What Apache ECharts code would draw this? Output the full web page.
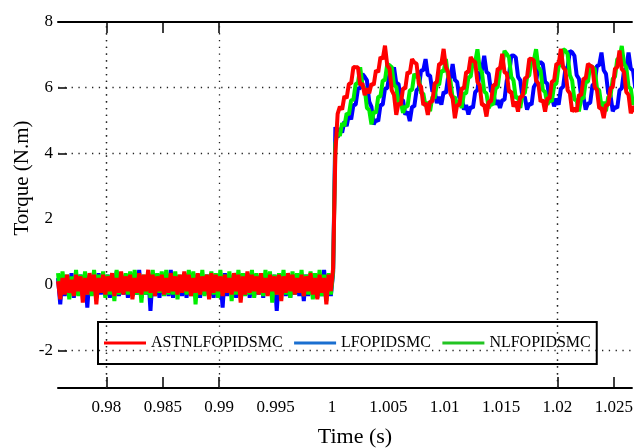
<!DOCTYPE html>
<html>
<head>
<meta charset="utf-8">
<title>Torque</title>
<script src="https://cdn.jsdelivr.net/npm/echarts@6/dist/echarts.min.js"></script>
<style>
  html, body { margin: 0; padding: 0; background: #fff; }
  #chart { width: 636px; height: 448px; }
</style>
</head>
<body>
<div id="chart"></div>
<script>
// sampling of the read-off curves
var preStart = 0.9757, postStart = 1.0003, dt = 0.0002;

// before the load step (t < 1 s)
var redPre = [
  0.1, -0.45, 0.2, -0.3, 0.3, -0.25, 0.15, -0.35, 0.3, -0.2,
  0.25, -0.55, 0.2, -0.3, 0.35, -0.2, 0.3, -0.6, 0.2, -0.25,
  0.3, -0.3, 0.25, -0.2, 0.35, -0.35, 0.2, -0.25, 0.4, -0.3,
  0.25, -0.2, 0.3, -0.45, 0.2, -0.25, 0.35, -0.3, 0.3, -0.2,
  0.45, -0.25, 0.3, -0.35, 0.25, -0.2, 0.3, -0.3, 0.2, -0.25,
  0.35, -0.2, 0.25, -0.3, 0.3, -0.25, 0.4, -0.2, 0.3, -0.35,
  0.2, -0.25, 0.35, -0.3, 0.25, -0.2, 0.3, -0.45, 0.35, -0.25,
  0.3, -0.2, 0.25, -0.35, 0.3, -0.25, 0.2, -0.3, 0.35, -0.2,
  0.3, -0.55, 0.25, -0.3, 0.4, -0.25, 0.3, -0.2, 0.25, -0.3,
  0.35, -0.25, 0.2, -0.35, 0.3, -0.2, 0.25, -0.3, 0.3, -0.5,
  0.25, -0.25, 0.35, -0.2, 0.3, -0.3, 0.2, -0.25, 0.3, -0.35,
  0.25, -0.2, 0.35, -0.3, 0.2, -0.45, 0.3, -0.25, 0.2, -0.6,
  0.3, -0.2, 0.5
];
var greenPre = [
  0.35, -0.3, 0.4, -0.25, 0.3, -0.45, 0.25, -0.3, 0.45, -0.35,
  0.3, -0.25, 0.4, -0.3, 0.25, -0.35, 0.45, -0.3, 0.3, -0.25,
  0.4, -0.4, 0.3, -0.3, 0.25, -0.5, 0.45, -0.3, 0.3, -0.25,
  0.35, -0.3, 0.4, -0.35, 0.45, -0.3, 0.25, -0.55, 0.3, -0.3,
  0.3, -0.4, 0.45, -0.3, 0.35, -0.25, 0.4, -0.35, 0.45, -0.3,
  0.3, -0.3, 0.4, -0.45, 0.3, -0.25, 0.35, -0.3, 0.45, -0.35,
  0.4, -0.6, 0.3, -0.3, 0.45, -0.35, 0.3, -0.25, 0.4, -0.3,
  0.35, -0.4, 0.45, -0.3, 0.3, -0.25, 0.4, -0.5, 0.3, -0.3,
  0.45, -0.3, 0.35, -0.35, 0.3, -0.3, 0.45, -0.4, 0.35, -0.25,
  0.3, -0.35, 0.45, -0.3, 0.4, -0.55, 0.3, -0.3, 0.35, -0.25,
  0.45, -0.3, 0.3, -0.4, 0.4, -0.3, 0.35, -0.25, 0.45, -0.35,
  0.3, -0.3, 0.4, -0.45, 0.35, -0.3, 0.45, -0.35, 0.3, -0.5,
  0.35, -0.3, 0.4
];
var bluePre = [
  0.2, -0.6, 0.3, -0.35, 0.25, -0.3, 0.35, -0.4, 0.2, -0.3,
  0.3, -0.35, 0.25, -0.7, 0.3, -0.3, 0.2, -0.4, 0.35, -0.3,
  0.25, -0.35, 0.3, -0.4, 0.2, -0.3, 0.4, -0.35, 0.25, -0.3,
  0.3, -0.4, 0.25, -0.35, 0.3, -0.3, 0.45, -0.4, 0.25, -0.3,
  0.35, -0.8, 0.3, -0.35, 0.2, -0.4, 0.3, -0.3, 0.25, -0.35,
  0.45, -0.4, 0.3, -0.3, 0.25, -0.35, 0.3, -0.4, 0.2, -0.3,
  0.35, -0.35, 0.3, -0.4, 0.25, -0.3, 0.3, -0.35, 0.2, -0.4,
  0.3, -0.3, 0.25, -0.7, 0.35, -0.35, 0.3, -0.3, 0.25, -0.4,
  0.3, -0.35, 0.2, -0.3, 0.35, -0.4, 0.3, -0.35, 0.25, -0.3,
  0.3, -0.4, 0.35, -0.3, 0.25, -0.35, 0.3, -0.8, 0.2, -0.3,
  0.3, -0.35, 0.25, -0.4, 0.3, -0.3, 0.35, -0.35, 0.25, -0.5,
  0.3, -0.35, 0.2, -0.3, 0.3, -0.4, 0.25, -0.35, 0.45, -0.3,
  0.3, -0.35, 0.35
];

// after the load step (t >= 1 s)
var redPost = [
  4.0, 5.2, 5.42, 5.33, 5.74, 5.68, 6.12, 6.13, 6.63, 6.62,
  6.62, 6.08, 6.13, 5.77, 5.98, 5.83, 6.12, 6.08, 6.53, 6.47,
  6.93, 6.87, 7.28, 6.68, 6.58, 5.92, 5.78, 5.17, 5.53, 5.47,
  5.98, 5.97, 6.48, 6.43, 6.87, 6.77, 6.73, 6.12, 6.03, 5.47,
  5.53, 5.17, 5.58, 5.57, 6.13, 6.17, 6.73, 6.72, 7.18, 6.62,
  6.48, 5.82, 5.68, 5.07, 5.48, 5.47, 5.98, 5.97, 6.48, 6.47,
  6.93, 6.82, 6.78, 6.17, 6.08, 5.47, 5.48, 5.12, 5.58, 5.57,
  6.08, 6.07, 6.58, 6.57, 7.03, 6.47, 6.43, 5.87, 5.88, 5.42,
  5.58, 5.27, 5.73, 5.72, 6.28, 6.32, 6.88, 6.87, 6.83, 6.22,
  6.13, 5.57, 5.63, 5.27, 5.68, 5.67, 6.18, 6.22, 6.73, 6.72,
  7.18, 6.62, 6.53, 5.92, 5.83, 5.27, 5.38, 5.27, 5.78, 5.77,
  6.28, 6.27, 6.73, 6.67, 6.63, 6.02, 5.93, 5.37, 5.38, 5.07,
  5.48, 5.47, 5.98, 6.02, 6.58, 6.62, 7.13, 6.57, 6.48, 5.87,
  5.78, 5.22, 5.43, 5.27
];
var greenPost = [
  4.3, 4.62, 4.53, 4.92, 4.83, 5.22, 5.18, 5.62, 5.63, 6.12,
  6.13, 6.62, 6.08, 5.97, 5.38, 5.32, 4.88, 5.27, 5.23, 5.72,
  5.73, 6.22, 6.23, 6.72, 6.68, 6.62, 6.08, 6.02, 5.53, 5.57,
  5.23, 5.42, 5.43, 5.92, 5.93, 6.42, 6.33, 6.32, 5.83, 5.82,
  5.43, 5.57, 5.28, 5.72, 5.68, 6.12, 6.08, 6.52, 6.48, 6.87,
  6.33, 6.22, 5.68, 5.72, 5.43, 5.62, 5.38, 5.82, 5.83, 6.32,
  6.33, 6.82, 6.78, 7.17, 6.58, 6.47, 5.88, 5.82, 5.38, 5.52,
  5.48, 5.97, 6.03, 6.57, 6.63, 7.12, 7.03, 6.92, 6.33, 6.22,
  5.68, 5.72, 5.38, 5.82, 5.83, 6.32, 6.38, 6.87, 6.83, 7.17,
  6.63, 6.52, 5.93, 5.87, 5.48, 5.62, 5.58, 6.07, 6.13, 6.67,
  6.68, 7.17, 7.13, 7.02, 6.38, 6.22, 5.63, 5.62, 5.28, 5.67,
  5.68, 6.17, 6.18, 6.67, 6.63, 6.57, 5.98, 5.92, 5.43, 5.57,
  5.28, 5.72, 5.73, 6.27, 6.33, 6.87, 6.88, 7.27, 6.73, 6.62,
  6.03, 5.97, 5.48, 5.62
];
var bluePost = [
  4.8, 4.48, 4.77, 4.63, 4.97, 4.83, 5.17, 5.03, 5.47, 5.48,
  5.97, 5.98, 6.42, 6.33, 6.22, 5.58, 5.42, 4.88, 5.02, 4.98,
  5.47, 5.48, 5.97, 5.98, 6.42, 6.33, 6.62, 6.13, 6.12, 5.63,
  5.62, 5.18, 5.27, 4.98, 5.42, 5.43, 5.92, 5.98, 6.52, 6.53,
  6.87, 6.38, 6.37, 5.88, 5.92, 5.53, 5.72, 5.48, 5.87, 5.83,
  6.32, 6.28, 6.72, 6.23, 6.17, 5.68, 5.72, 5.33, 5.47, 5.18,
  5.42, 5.38, 5.87, 5.93, 6.47, 6.53, 6.97, 6.48, 6.42, 5.88,
  5.87, 5.48, 5.62, 5.38, 5.62, 5.63, 6.22, 6.38, 6.97, 6.98,
  6.92, 6.33, 6.22, 5.68, 5.72, 5.33, 5.52, 5.48, 6.02, 6.13,
  6.72, 6.78, 6.72, 6.18, 6.12, 5.63, 5.72, 5.43, 5.67, 5.48,
  5.97, 6.03, 6.57, 6.63, 7.12, 7.08, 6.97, 6.38, 6.27, 5.73,
  5.72, 5.33, 5.52, 5.53, 6.07, 6.13, 6.67, 6.68, 7.07, 6.53,
  6.42, 5.83, 5.77, 5.28, 5.42, 5.38, 5.92, 5.98, 6.52, 6.58,
  7.07, 6.58, 6.52, 5.98
];

var seriesNames = ['ASTNLFOPIDSMC', 'LFOPIDSMC', 'NLFOPIDSMC'];
var xLabelVals = [0.98, 0.985, 0.99, 0.995, 1, 1.005, 1.01, 1.015, 1.02, 1.025];
var xTickVals = [0.98, 0.985, 0.99, 1.02, 1.025];
var yLabelVals = [8, 6, 4, 2, 0, -2];
var yTickVals = [6, 4, -2];
var xGridVals = [0.98, 0.985, 0.99, 1.02, 1.025];
var yGridVals = [6, 4, -2];

function toPairs(pre, post) {
  var out = [];
  for (var i = 0; i < pre.length; i++) out.push([+(preStart + i * dt).toFixed(5), pre[i]]);
  for (var j = 0; j < post.length; j++) out.push([+(postStart + j * dt).toFixed(5), post[j]]);
  return out;
}

var font = 'Liberation Serif';
var xMin = 0.9757, xMax = 1.0266;

var gridMarks = [];
xGridVals.forEach(function (v) { gridMarks.push({ xAxis: v }); });
yGridVals.forEach(function (v) { gridMarks.push({ yAxis: v }); });

var myChart = echarts.init(document.getElementById('chart'));
var option = {
  animation: false,
  backgroundColor: '#fff',
  textStyle: { fontFamily: font, color: '#000' },
  grid: { left: 58, right: 0, top: 22, bottom: 60 },
  legend: {
    left: 98, top: 322,
    padding: [13, 6, 13, 6],
    itemGap: 11.5,
    itemWidth: 42, itemHeight: 3,
    icon: 'rect',
    borderColor: '#000', borderWidth: 2,
    textStyle: { fontFamily: font, fontSize: 16, color: '#000' },
    data: [
      { name: seriesNames[0], itemStyle: { color: '#ff0000' } },
      { name: seriesNames[1], itemStyle: { color: '#1a6fd0' } },
      { name: seriesNames[2], itemStyle: { color: '#22c422' } }
    ]
  },
  xAxis: [{
    type: 'value', min: xMin, max: xMax,
    axisLine: { show: true, onZero: false, lineStyle: { color: '#000', width: 2 } },
    axisTick: { show: true, inside: true, length: 11, customValues: xTickVals, lineStyle: { color: '#000', width: 1.5 } },
    axisLabel: {
      customValues: xLabelVals, margin: 11,
      fontFamily: font, fontSize: 17, color: '#000',
      formatter: function (v) { return String(+(+v).toFixed(3)); }
    },
    splitLine: { show: false }
  }, {
    type: 'value', min: xMin, max: xMax, position: 'top',
    axisLine: { show: true, onZero: false, lineStyle: { color: '#000', width: 2 } },
    axisTick: { show: true, inside: true, length: 11, customValues: xTickVals, lineStyle: { color: '#000', width: 1.5 } },
    axisLabel: { show: false },
    splitLine: { show: false }
  }],
  yAxis: {
    type: 'value', min: -3.15, max: 8,
    axisLine: { show: false },
    axisTick: { show: true, inside: true, length: 9, customValues: yTickVals, lineStyle: { color: '#000', width: 1.5 } },
    axisLabel: { customValues: yLabelVals, margin: 5, fontFamily: font, fontSize: 17, color: '#000' },
    splitLine: { show: false }
  },
  graphic: [
    { type: 'text', x: 22, y: 178, rotation: Math.PI / 2,
      style: { text: 'Torque (N.m)', font: '21px "Liberation Serif"', fill: '#000', textAlign: 'center', textVerticalAlign: 'middle' } },
    { type: 'text', x: 355, y: 437,
      style: { text: 'Time (s)', font: '22px "Liberation Serif"', fill: '#000', textAlign: 'center', textVerticalAlign: 'middle' } }
  ],
  series: [
    {
      name: seriesNames[1], type: 'line', showSymbol: false, symbol: 'none',
      color: '#0000ff', lineStyle: { color: '#0000ff', width: 4 },
      data: toPairs(bluePre, bluePost),
      markLine: {
        silent: true, symbol: 'none', z: 1, animation: false,
        label: { show: false },
        lineStyle: { color: '#222', width: 1.3, type: [1.3, 5.5] },
        data: gridMarks
      }
    },
    {
      name: seriesNames[2], type: 'line', showSymbol: false, symbol: 'none',
      color: '#00ee00', lineStyle: { color: '#00ee00', width: 4 },
      data: toPairs(greenPre, greenPost)
    },
    {
      name: seriesNames[0], type: 'line', showSymbol: false, symbol: 'none',
      color: '#ff0000', lineStyle: { color: '#ff0000', width: 4 },
      data: toPairs(redPre, redPost)
    }
  ]
};
myChart.setOption(option);
</script>
</body>
</html>
